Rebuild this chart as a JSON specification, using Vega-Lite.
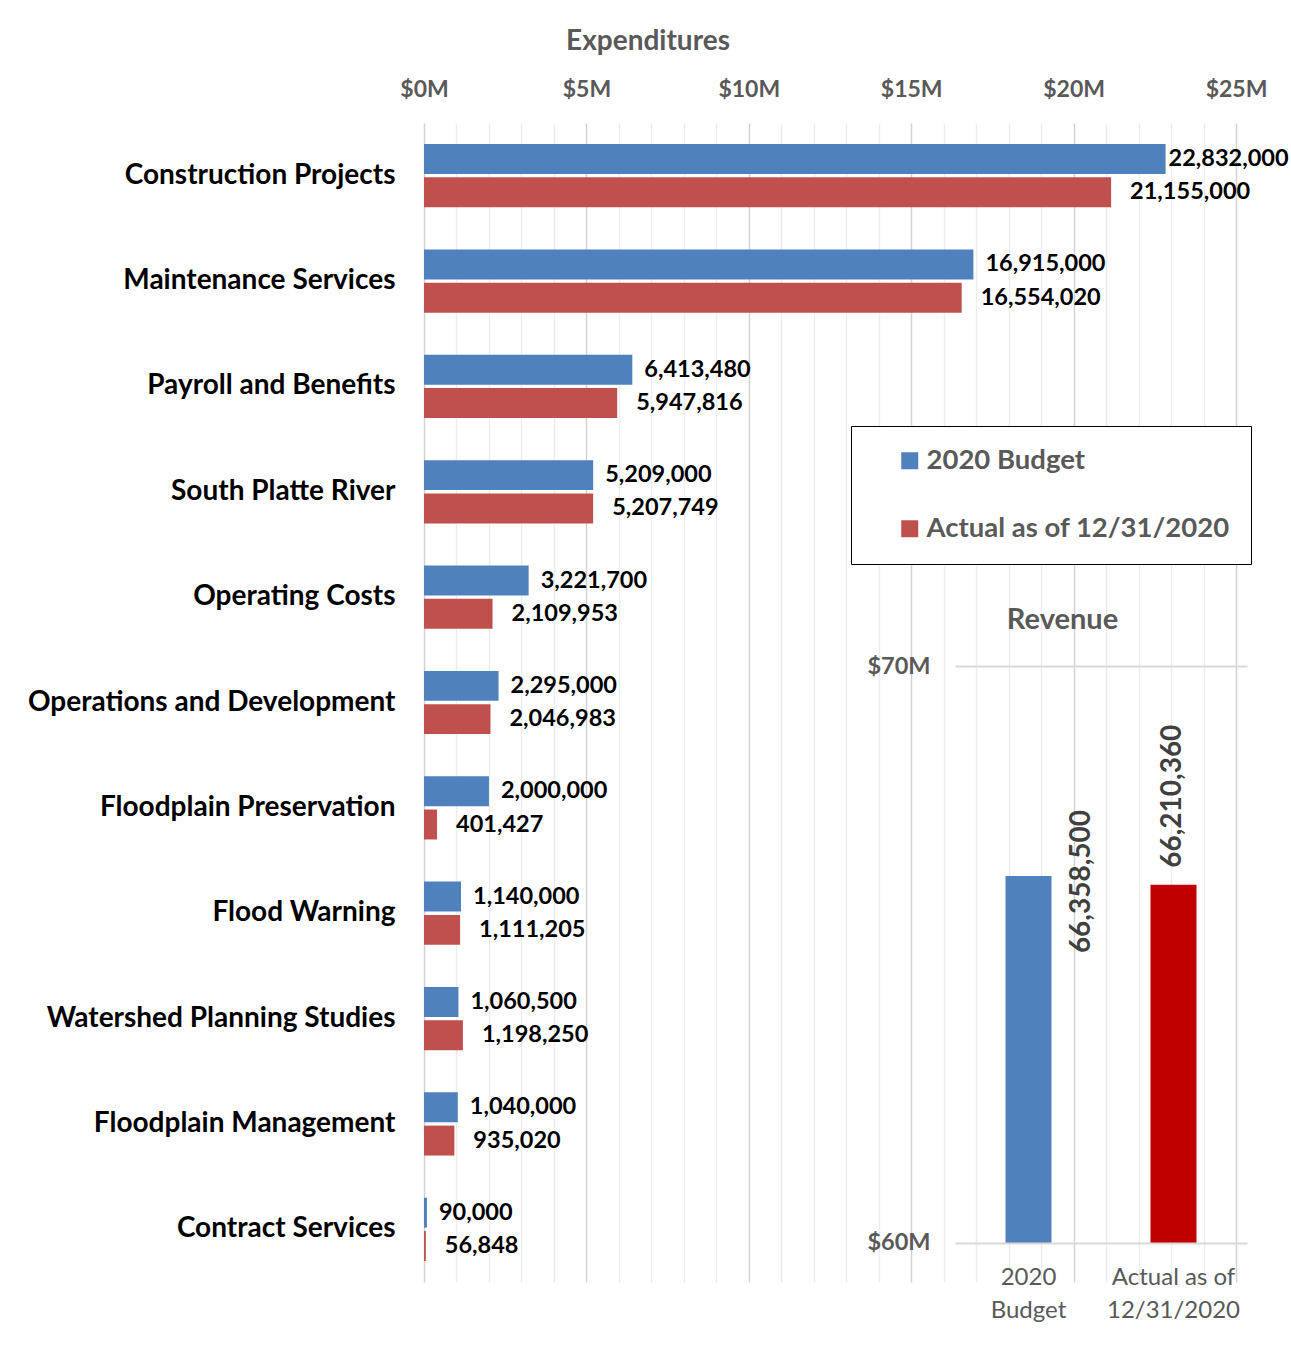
{
  "$schema": "https://vega.github.io/schema/vega-lite/v6.json",
  "width": 812,
  "height": 1159,
  "autosize": "none",
  "padding": {"left": 424, "top": 123, "right": 55, "bottom": 85},
  "background": "white",
  "config": {"font": "Lato", "view": {"stroke": null}},
  "title": {"text": "Expenditures", "anchor": "middle", "frame": "group", "dx": -182, "fontSize": 28, "fontWeight": "bold", "color": "#595959", "offset": 22},
  "datasets": {
    "expenditures": [
      {"category": "Construction Projects", "series": "2020 Budget", "value": 22832000},
      {"category": "Construction Projects", "series": "Actual as of 12/31/2020", "value": 21155000},
      {"category": "Maintenance Services", "series": "2020 Budget", "value": 16915000},
      {"category": "Maintenance Services", "series": "Actual as of 12/31/2020", "value": 16554020},
      {"category": "Payroll and Benefits", "series": "2020 Budget", "value": 6413480},
      {"category": "Payroll and Benefits", "series": "Actual as of 12/31/2020", "value": 5947816},
      {"category": "South Platte River", "series": "2020 Budget", "value": 5209000},
      {"category": "South Platte River", "series": "Actual as of 12/31/2020", "value": 5207749},
      {"category": "Operating Costs", "series": "2020 Budget", "value": 3221700},
      {"category": "Operating Costs", "series": "Actual as of 12/31/2020", "value": 2109953},
      {"category": "Operations and Development", "series": "2020 Budget", "value": 2295000},
      {"category": "Operations and Development", "series": "Actual as of 12/31/2020", "value": 2046983},
      {"category": "Floodplain Preservation", "series": "2020 Budget", "value": 2000000},
      {"category": "Floodplain Preservation", "series": "Actual as of 12/31/2020", "value": 401427},
      {"category": "Flood Warning", "series": "2020 Budget", "value": 1140000},
      {"category": "Flood Warning", "series": "Actual as of 12/31/2020", "value": 1111205},
      {"category": "Watershed Planning Studies", "series": "2020 Budget", "value": 1060500},
      {"category": "Watershed Planning Studies", "series": "Actual as of 12/31/2020", "value": 1198250},
      {"category": "Floodplain Management", "series": "2020 Budget", "value": 1040000},
      {"category": "Floodplain Management", "series": "Actual as of 12/31/2020", "value": 935020},
      {"category": "Contract Services", "series": "2020 Budget", "value": 90000},
      {"category": "Contract Services", "series": "Actual as of 12/31/2020", "value": 56848}
    ],
    "revenue": [
      {"label": "2020 Budget", "value": 66358500},
      {"label": "Actual as of 12/31/2020", "value": 66210360}
    ],
    "panel": [
      {"panel": "frame"}
    ]
  },
  "layer": [
    {
      "data": {"name": "expenditures"},
      "encoding": {
        "y": {
          "field": "category", "type": "nominal",
          "sort": ["Construction Projects", "Maintenance Services", "Payroll and Benefits", "South Platte River", "Operating Costs", "Operations and Development", "Floodplain Preservation", "Flood Warning", "Watershed Planning Studies", "Floodplain Management", "Contract Services"],
          "scale": {"paddingInner": 0.4, "paddingOuter": 0.2},
          "axis": {"title": null, "labelFontSize": 28, "labelFontWeight": "bold", "labelColor": "black", "labelPadding": 29, "ticks": false, "domain": false, "labelLimit": 600}
        },
        "yOffset": {"field": "series", "type": "nominal", "sort": ["2020 Budget", "Actual as of 12/31/2020"], "scale": {"paddingInner": 0.1}},
        "x": {
          "field": "value", "type": "quantitative",
          "scale": {"domain": [0, 25000000], "nice": false},
          "axis": {
            "orient": "top", "title": null,
            "values": [0, 1000000, 2000000, 3000000, 4000000, 5000000, 6000000, 7000000, 8000000, 9000000, 10000000, 11000000, 12000000, 13000000, 14000000, 15000000, 16000000, 17000000, 18000000, 19000000, 20000000, 21000000, 22000000, 23000000, 24000000, 25000000],
            "labelExpr": "datum.value % 5000000 === 0 ? '$' + (datum.value / 1000000) + 'M' : ''",
            "labelFontSize": 23, "labelFontWeight": "bold", "labelColor": "#595959", "labelFlush": false,
            "ticks": false, "domain": false, "labelPadding": 22,
            "gridColor": {"condition": {"test": "datum.value % 5000000 === 0", "value": "#d2d2d2"}, "value": "#ededed"},
            "gridWidth": 1.5
          }
        }
      },
      "layer": [
        {
          "mark": {"type": "bar"},
          "encoding": {
            "color": {
              "field": "series", "type": "nominal",
              "scale": {"domain": ["2020 Budget", "Actual as of 12/31/2020"], "range": ["#4F81BD", "#C0504D"]},
              "legend": {
                "title": null, "orient": "none", "legendX": 427, "legendY": 303, "direction": "vertical",
                "fillColor": "white", "strokeColor": "black", "padding": 21,
                "symbolType": "square", "symbolSize": 289, "symbolOffset": 24, "symbolStrokeWidth": 0,
                "labelFontSize": 27.5, "labelFontWeight": "bold", "labelColor": "#595959", "labelOffset": 3,
                "rowPadding": 39, "labelLimit": 600
              }
            }
          }
        },
        {
          "transform": [{"filter": "datum.series === '2020 Budget' && datum.value < 20000000"}],
          "mark": {"type": "text", "align": "left", "baseline": "middle", "dx": 12, "fontSize": 23.5, "fontWeight": "bold", "color": "black"},
          "encoding": {"text": {"field": "value", "type": "quantitative", "format": ","}}
        },
        {
          "transform": [{"filter": "datum.series === '2020 Budget' && datum.value >= 20000000"}],
          "mark": {"type": "text", "align": "left", "baseline": "middle", "dx": 3, "fontSize": 23.5, "fontWeight": "bold", "color": "black"},
          "encoding": {"text": {"field": "value", "type": "quantitative", "format": ","}}
        },
        {
          "transform": [{"filter": "datum.series !== '2020 Budget'"}],
          "mark": {"type": "text", "align": "left", "baseline": "middle", "dx": 19, "fontSize": 23.5, "fontWeight": "bold", "color": "black"},
          "encoding": {"text": {"field": "value", "type": "quantitative", "format": ","}}
        }
      ]
    },
    {
      "data": {"name": "revenue"},
      "encoding": {
        "x": {
          "field": "label", "type": "nominal",
          "scale": {"domain": ["2020 Budget", "Actual as of 12/31/2020"], "range": [531, 823], "paddingInner": 0.6828, "paddingOuter": 0.3483},
          "axis": {
            "orient": "bottom", "offset": -39, "title": null, "ticks": false, "domain": false, "labelAngle": 0,
            "labelFontSize": 24, "labelColor": "#595959", "labelFontWeight": "normal", "labelPadding": 22,
            "labelExpr": "datum.value === '2020 Budget' ? ['2020', 'Budget'] : ['Actual as of', '12/31/2020']",
            "labelLineHeight": 33, "zindex": 2
          }
        },
        "y": {
          "field": "value", "type": "quantitative",
          "scale": {"domain": [59324000, 79411000], "nice": false, "zero": false},
          "axis": {
            "orient": "left", "offset": -531, "values": [60000000, 70000000],
            "labelExpr": "'$' + (datum.value / 1000000) + 'M'",
            "grid": true, "gridColor": "#d9d9d9", "gridWidth": 2,
            "ticks": false, "domain": false, "labelPadding": 25,
            "labelFontSize": 23.5, "labelFontWeight": "bold", "labelColor": "#595959",
            "title": "Revenue", "titleAngle": 0, "titleX": 107, "titleY": 496, "titleAlign": "center", "titleBaseline": "middle",
            "titleFontSize": 29, "titleFontWeight": "bold", "titleColor": "#595959", "zindex": 2
          }
        }
      },
      "layer": [
        {
          "data": {"name": "panel"},
          "mark": {"type": "rect", "filled": false, "color": "#3a3a3a", "strokeWidth": 1.5},
          "encoding": {
            "detail": {"field": "panel", "type": "nominal"},
            "x": {"datum": "2020 Budget", "bandPosition": -21.75},
            "x2": {"datum": "Actual as of 12/31/2020", "bandPosition": 3.033},
            "y": {"datum": 81491000},
            "y2": {"datum": 57869000}
          }
        },
        {
          "data": {"name": "panel"},
          "mark": {"type": "rect", "color": "black", "opacity": 0.07},
          "encoding": {
            "detail": {"field": "panel", "type": "nominal"},
            "x": {"datum": "2020 Budget", "bandPosition": -3.228},
            "x2": {"datum": "Actual as of 12/31/2020", "bandPosition": 2.315},
            "y": {"datum": 74056000},
            "y2": {"datum": 71664000}
          }
        },
        {
          "data": {"name": "panel"},
          "mark": {"type": "rect", "color": "black", "opacity": 0.12},
          "encoding": {
            "detail": {"field": "panel", "type": "nominal"},
            "x": {"datum": "2020 Budget", "bandPosition": -3.293},
            "x2": {"datum": "Actual as of 12/31/2020", "bandPosition": 2.25},
            "y": {"datum": 74108000},
            "y2": {"datum": 71716000}
          }
        },
        {
          "data": {"name": "panel"},
          "mark": {"type": "rect", "color": "black", "opacity": 0.07},
          "encoding": {
            "detail": {"field": "panel", "type": "nominal"},
            "x": {"datum": "2020 Budget", "bandPosition": -3.142},
            "x2": {"datum": "Actual as of 12/31/2020", "bandPosition": 2.75},
            "y": {"datum": 71335000},
            "y2": {"datum": 58250000}
          }
        },
        {
          "data": {"name": "panel"},
          "mark": {"type": "rect", "color": "black", "opacity": 0.12},
          "encoding": {
            "detail": {"field": "panel", "type": "nominal"},
            "x": {"datum": "2020 Budget", "bandPosition": -3.207},
            "x2": {"datum": "Actual as of 12/31/2020", "bandPosition": 2.685},
            "y": {"datum": 71387000},
            "y2": {"datum": 58302000}
          }
        },
        {
          "data": {"name": "panel"},
          "mark": {"type": "rect", "fill": "white", "stroke": "black", "strokeWidth": 2},
          "encoding": {
            "detail": {"field": "panel", "type": "nominal"},
            "x": {"datum": "2020 Budget", "bandPosition": -3.272},
            "x2": {"datum": "Actual as of 12/31/2020", "bandPosition": 2.62},
            "y": {"datum": 71439000},
            "y2": {"datum": 58354000}
          }
        },
        {
          "mark": {"type": "bar"},
          "encoding": {
            "y2": {"datum": 60000000},
            "color": {"field": "label", "type": "nominal", "scale": {"domain": ["2020 Budget", "Actual as of 12/31/2020"], "range": ["#4F81BD", "#C00000"]}, "legend": null}
          }
        },
        {
          "transform": [{"filter": "datum.label === '2020 Budget'"}],
          "mark": {"type": "text", "angle": 270, "align": "left", "baseline": "middle", "dx": -77, "dy": 53, "fontSize": 28, "fontWeight": "bold", "color": "#404040"},
          "encoding": {"text": {"field": "value", "type": "quantitative", "format": ","}}
        },
        {
          "transform": [{"filter": "datum.label !== '2020 Budget'"}],
          "mark": {"type": "text", "angle": 270, "align": "left", "baseline": "middle", "dx": 17, "dy": 0, "fontSize": 28, "fontWeight": "bold", "color": "#404040"},
          "encoding": {"text": {"field": "value", "type": "quantitative", "format": ","}}
        }
      ]
    }
  ],
  "resolve": {"scale": {"x": "independent", "y": "independent", "color": "independent"}}
}
